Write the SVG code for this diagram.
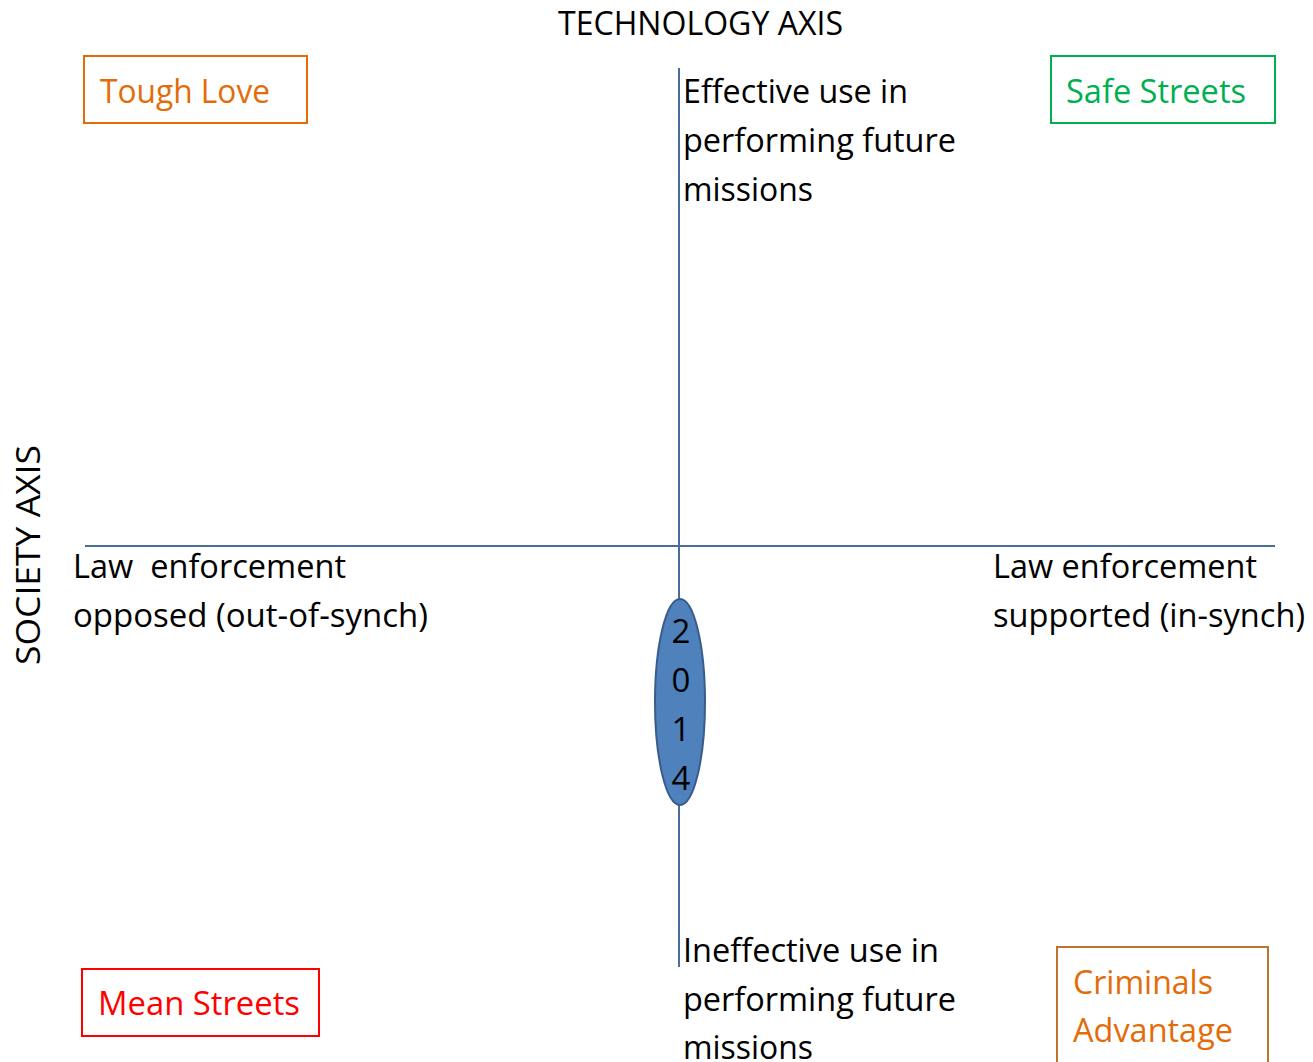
<svg xmlns="http://www.w3.org/2000/svg" width="1313" height="1062" viewBox="0 0 1313 1062">
<style>
text{font-family:"Open Sans","Liberation Sans",sans-serif;font-size:33px;fill:#000;white-space:pre}
.axis{stroke:#4a6d9a;stroke-width:2;fill:none}
.box{fill:#fff;stroke-width:2}
</style>
<rect width="1313" height="1062" fill="#fff"/>
<g id="connectors">
<line class="axis" x1="679" y1="68" x2="679" y2="967"/>
<line class="axis" x1="85" y1="546" x2="1275" y2="546"/>
</g>
<g id="title-tech"><text x="558" y="35" textLength="285" lengthAdjust="spacingAndGlyphs">TECHNOLOGY AXIS</text></g>
<g id="title-society"><text transform="translate(40,665) rotate(-90)" x="0" y="0" textLength="220" lengthAdjust="spacingAndGlyphs">SOCIETY AXIS</text></g>
<g id="tough-love">
<rect class="box" x="84" y="56" width="223" height="67" stroke="#e36c09"/>
<text x="100" y="103" style="fill:#e36c09" textLength="170" lengthAdjust="spacingAndGlyphs">Tough Love</text>
</g>
<g id="safe-streets">
<rect class="box" x="1051" y="56" width="224" height="67" stroke="#00b050"/>
<text x="1066" y="103" style="fill:#00b050" textLength="180" lengthAdjust="spacingAndGlyphs">Safe Streets</text>
</g>
<g id="mean-streets">
<rect class="box" x="82" y="969" width="237" height="67" stroke="#ff0000"/>
<text x="98" y="1015" style="fill:#ff0000" textLength="202" lengthAdjust="spacingAndGlyphs">Mean Streets</text>
</g>
<g id="criminals-advantage">
<rect class="box" x="1057" y="947" width="211" height="130" stroke="#c0722f"/>
<text x="1073" y="994" style="fill:#e36c09" textLength="140" lengthAdjust="spacingAndGlyphs">Criminals</text>
<text x="1073" y="1042" style="fill:#e36c09" textLength="160" lengthAdjust="spacingAndGlyphs">Advantage</text>
</g>
<g id="top-label">
<text x="683" y="103" textLength="225" lengthAdjust="spacingAndGlyphs">Effective use in</text>
<text x="683" y="152" textLength="273" lengthAdjust="spacingAndGlyphs">performing future</text>
<text x="683" y="201" textLength="130" lengthAdjust="spacingAndGlyphs">missions</text>
</g>
<g id="bottom-label">
<text x="683" y="962" textLength="256" lengthAdjust="spacingAndGlyphs">Ineffective use in</text>
<text x="683" y="1011" textLength="273" lengthAdjust="spacingAndGlyphs">performing future</text>
<text x="683" y="1059" textLength="130" lengthAdjust="spacingAndGlyphs">missions</text>
</g>
<g id="left-label">
<text x="73" y="578" xml:space="preserve" textLength="273" lengthAdjust="spacingAndGlyphs">Law  enforcement</text>
<text x="73" y="627" textLength="355" lengthAdjust="spacingAndGlyphs">opposed (out-of-synch)</text>
</g>
<g id="right-label">
<text x="993" y="578" textLength="264" lengthAdjust="spacingAndGlyphs">Law enforcement</text>
<text x="993" y="627" textLength="312" lengthAdjust="spacingAndGlyphs">supported (in-synch)</text>
</g>
<g id="year-2014">
<ellipse cx="680" cy="702" rx="25" ry="103" fill="#4f81bd" stroke="#385d8a" stroke-width="2"/>
<text x="681" y="643" text-anchor="middle">2</text>
<text x="681" y="692" text-anchor="middle">0</text>
<text x="681" y="741" text-anchor="middle">1</text>
<text x="681" y="790" text-anchor="middle">4</text>
</g>
</svg>
